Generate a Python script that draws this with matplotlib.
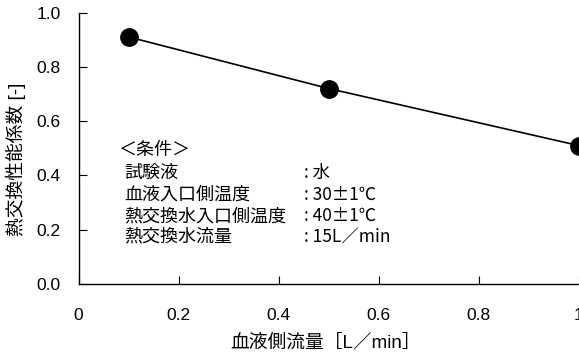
import matplotlib
matplotlib.use("Agg")
import matplotlib.pyplot as plt

plt.rcParams['font.family'] = ['Liberation Sans', 'Noto Sans CJK JP', 'DejaVu Sans']

# Data
flow = [0.1, 0.5, 1.0]
coef = [0.91, 0.72, 0.51]
xticks = [0, 0.2, 0.4, 0.6, 0.8, 1.0]
xticklabels = ["0", "0.2", "0.4", "0.6", "0.8", "1"]
yticks = [0.0, 0.2, 0.4, 0.6, 0.8, 1.0]
yticklabels = ["0.0", "0.2", "0.4", "0.6", "0.8", "1.0"]
cond_title = "＜条件＞"
cond_names = ["試験液", "血液入口側温度", "熱交換水入口側温度", "熱交換水流量"]
cond_values = [": 水", ": 30±1℃", ": 40±1℃", ": 15L／min"]

fig = plt.figure(figsize=(5.79, 3.54), dpi=100)
ax = fig.add_axes([78.6/579, 1-284/354, 500/579, 271.5/354])

ax.plot(flow, coef, color='black', lw=1.2, marker='o', markersize=12.5,
        markerfacecolor='black', markeredgecolor='black')

ax.set_xlim(0, 1)
ax.set_ylim(0, 1)
ax.set_xticks(xticks)
ax.set_xticklabels(xticklabels)
ax.set_yticks(yticks)
ax.set_yticklabels(yticklabels)

for s in ['top', 'right']:
    ax.spines[s].set_visible(False)
for s in ['left', 'bottom']:
    ax.spines[s].set_linewidth(1.0)
    ax.spines[s].set_color('black')

ax.tick_params(axis='x', direction='in', length=6, width=0.8, pad=17, labelsize=12.5)
ax.tick_params(axis='y', direction='in', length=6, width=0.8, pad=13, labelsize=12.5)

ax.set_xlabel("血液側流量［L／min］", fontsize=13.5)
ax.xaxis.set_label_coords(0.494, -0.217)
ax.xaxis.label.set_va('center')
ax.set_ylabel("熱交換性能係数 [-]", fontsize=13.5)
ax.yaxis.set_label_coords(-0.125, 0.46)
ax.yaxis.label.set_va('center')

ax.text(0.079, 0.492, cond_title, transform=ax.transAxes, fontsize=13, va='center', ha='left',
        family=['Noto Sans CJK JP'])
ys = [0.409, 0.328, 0.250, 0.173]
for y, n, v in zip(ys, cond_names, cond_values):
    ax.text(0.091, y, n, transform=ax.transAxes, fontsize=13, va='center', ha='left',
            family=['Noto Sans CJK JP'])
    ax.text(0.451, y, v, transform=ax.transAxes, fontsize=12.5, va='center', ha='left',
            family=['Noto Sans CJK JP'])

fig.savefig("out.png", dpi=100)
